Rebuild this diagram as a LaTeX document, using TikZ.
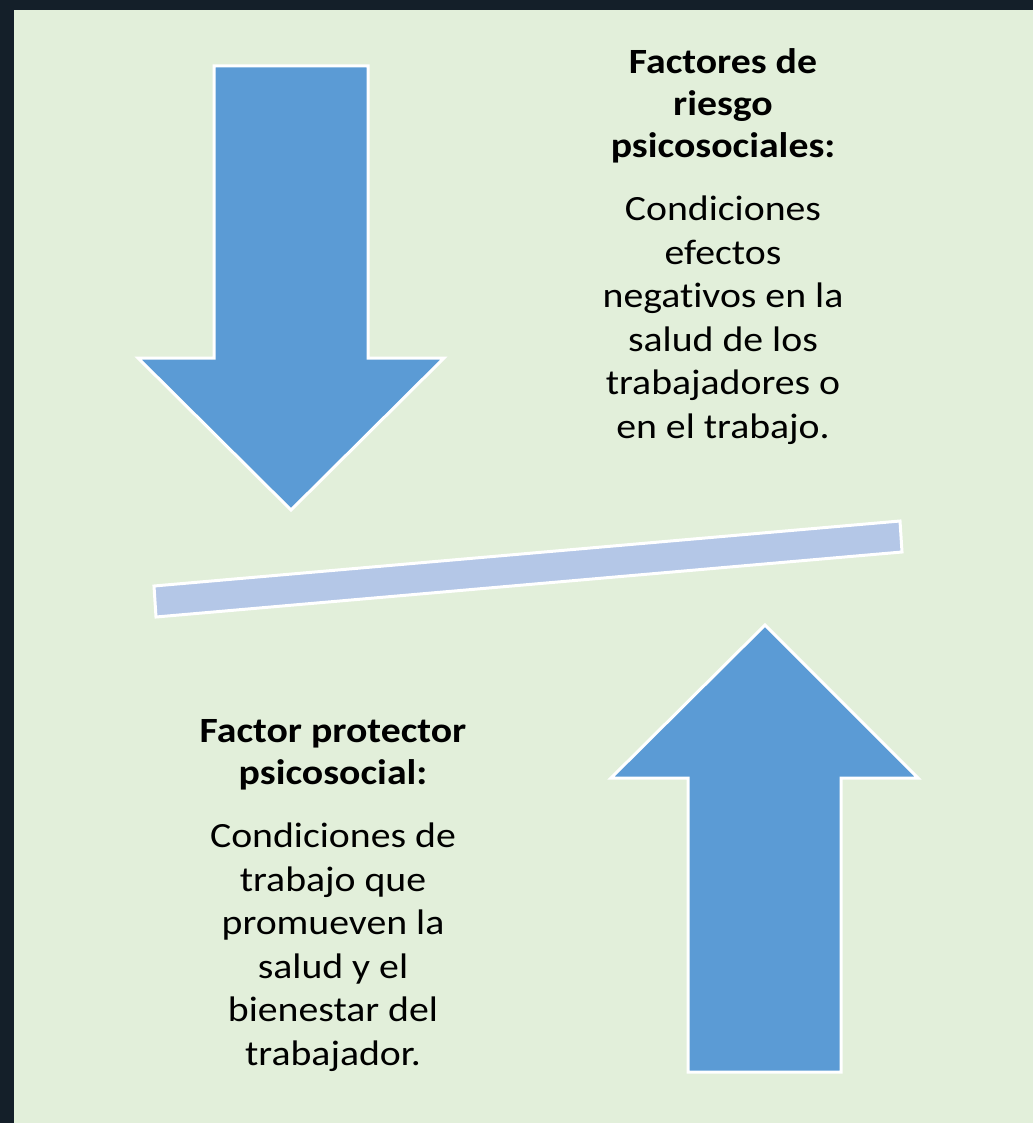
\documentclass[tikz,border=0pt]{standalone}
\usepackage{fontspec}
\setmainfont{Carlito}[FakeStretch=1.12,Ligatures={NoCommon}]
\usepackage{tikz}

\definecolor{fondo}{HTML}{141F29}
\definecolor{verde}{HTML}{E2EFDA}
\definecolor{azul}{HTML}{5B9BD5}
\definecolor{azulclaro}{HTML}{B4C7E7}

\begin{document}
\begin{tikzpicture}[x=1pt,y=-1pt,
    flecha/.style={fill=azul,draw=white,line width=3pt},
    barra/.style={fill=azulclaro,draw=white,line width=3pt},
    titulo/.style={font=\bfseries\fontsize{35.5}{42}\selectfont,align=center,inner sep=0pt,anchor=north},
    texto/.style={font=\fontsize{35.5}{43.5}\selectfont,align=center,inner sep=0pt,anchor=north}]
      \useasboundingbox (0,0) rectangle (1033,1123);
      \fill[fondo] (0,0) rectangle (1033,1123);
      \fill[verde] (14,10) rectangle (1033,1123);
      % flecha hacia abajo
      \draw[flecha] (214,66) -- (368,66) -- (368,358) -- (444,358) -- (291,510)
            -- (138,358) -- (214,358) -- cycle;
      % flecha hacia arriba
      \draw[flecha] (688,1072) -- (841,1072) -- (841,778) -- (918,778) -- (765,625)
            -- (611,778) -- (688,778) -- cycle;
      % barra inclinada
      \draw[barra] (154,586) -- (900,521) -- (902,552) -- (156,617) -- cycle;
      \node[titulo] (riesgoTit) at (723,48) {Factores de\\riesgo\\psicosociales:};
      \node[texto] (riesgoTxt) at (723,196) {Condiciones\\efectos\\negativos en la\\salud de los\\trabajadores o\\en el trabajo.};
      \node[titulo] (protTit) at (333,719) {Factor protector\\psicosocial:};
      \node[texto] (protTxt) at (333,823) {Condiciones de\\trabajo que\\promueven la\\salud y el\\bienestar del\\trabajador.};
\end{tikzpicture}
\end{document}
